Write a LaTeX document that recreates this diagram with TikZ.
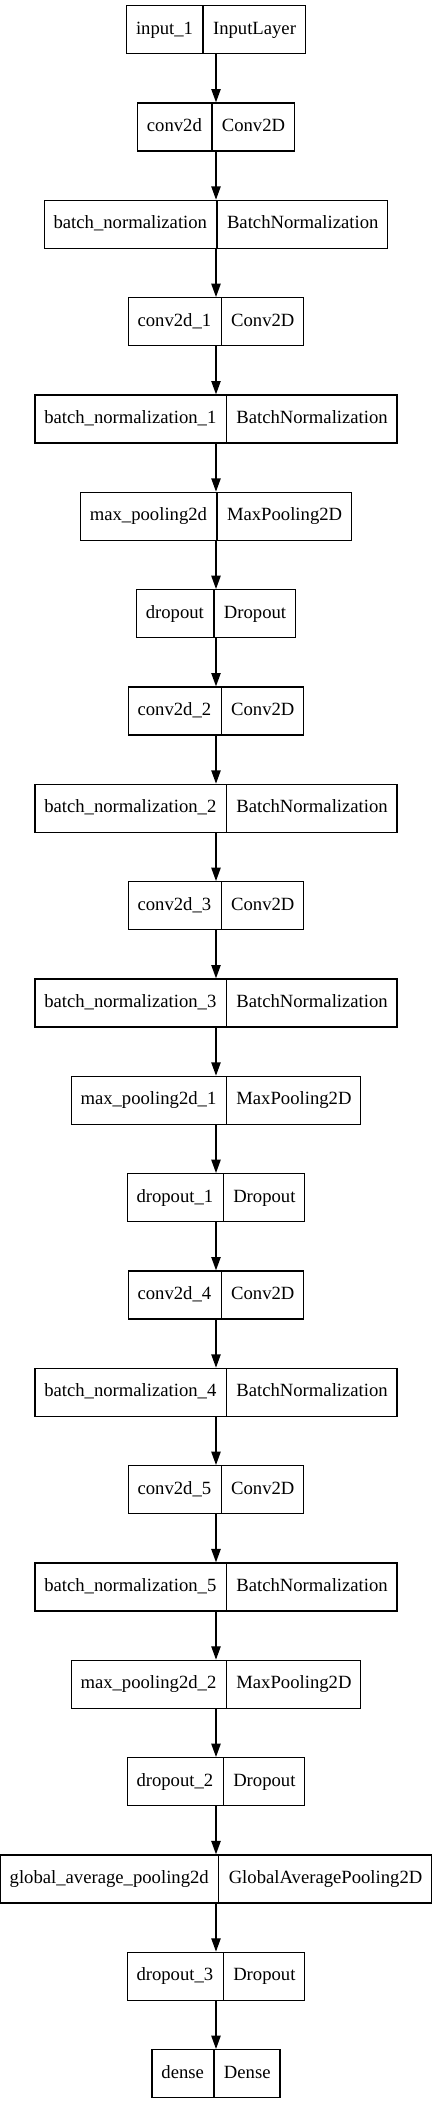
\documentclass[tikz,border=0pt]{standalone}
\usepackage{fontspec}
\setmainfont{Liberation Serif}
\usetikzlibrary{arrows.meta, shapes.multipart}

\begin{document}
\begin{tikzpicture}[x=0.75pt, y=-0.75pt,
        capa/.style={draw, line width=1pt, rectangle split, rectangle split horizontal,
            rectangle split parts=2, inner xsep=7pt, inner ysep=4pt, minimum height=36pt,
            font=\fontsize{14}{17}\selectfont},
        flecha/.style={line width=1pt, -{Triangle[length=10pt, width=7pt]}}]
    \useasboundingbox (0,0) rectangle (432,2104);
    % capas del modelo, de arriba a abajo
    \foreach \nombre/\tipo [count=\i] in {input\_1/InputLayer, conv2d/Conv2D,
            batch\_normalization/BatchNormalization, conv2d\_1/Conv2D,
            batch\_normalization\_1/BatchNormalization, max\_pooling2d/MaxPooling2D,
            dropout/Dropout, conv2d\_2/Conv2D, batch\_normalization\_2/BatchNormalization,
            conv2d\_3/Conv2D, batch\_normalization\_3/BatchNormalization,
            max\_pooling2d\_1/MaxPooling2D, dropout\_1/Dropout, conv2d\_4/Conv2D,
            batch\_normalization\_4/BatchNormalization, conv2d\_5/Conv2D,
            batch\_normalization\_5/BatchNormalization, max\_pooling2d\_2/MaxPooling2D,
            dropout\_2/Dropout, global\_average\_pooling2d/GlobalAveragePooling2D,
            dropout\_3/Dropout, dense/Dense}
        \node[capa] (c\i) at (216, {29.7+97.33*(\i-1)}) {\strut\nombre \nodepart{two}\strut\tipo};
    % conexiones entre capas
    \foreach \i [remember=\i as \j (initially 1)] in {2,...,22}
        \draw[flecha] (c\j.south) -- (c\i.north);
\end{tikzpicture}
\end{document}
